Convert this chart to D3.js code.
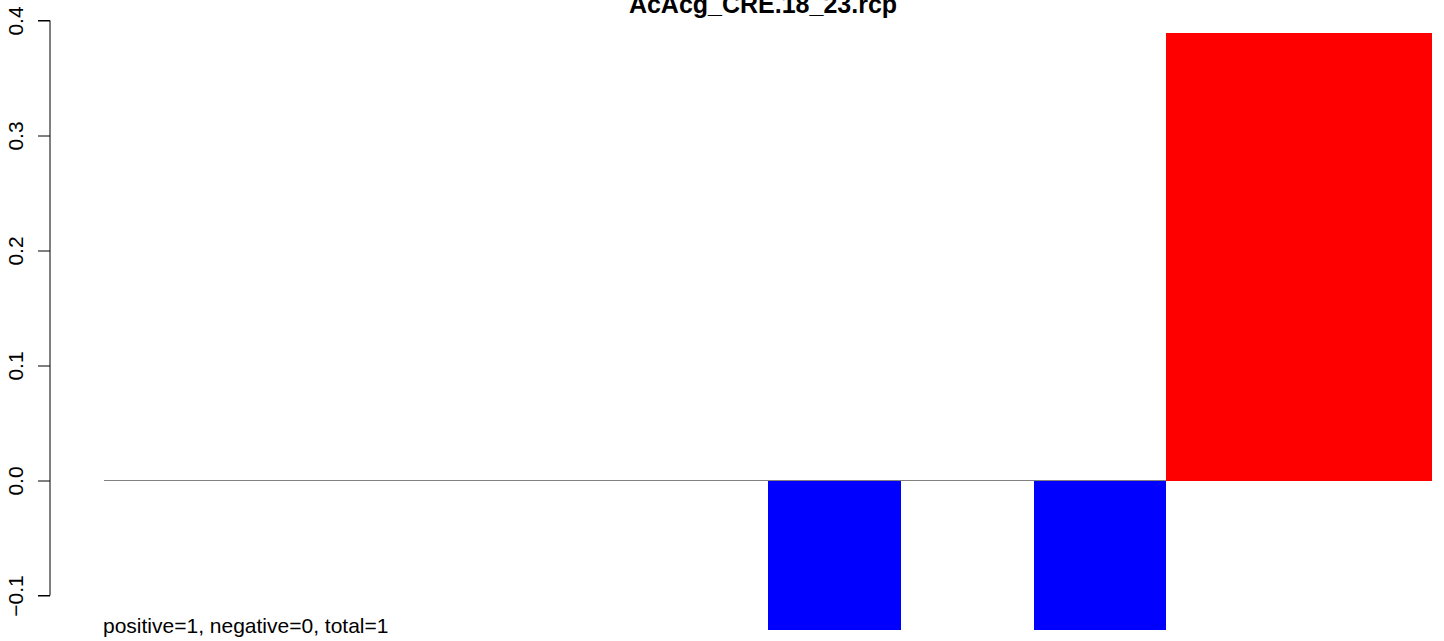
<!DOCTYPE html>
<html>
<head>
<meta charset="utf-8">
<script src="https://cdn.jsdelivr.net/npm/d3@7/dist/d3.min.js"></script>
<style>
  html, body { margin: 0; padding: 0; background: #fff; }
  svg { display: block; font-family: "Liberation Sans", Arial, sans-serif; }
</style>
</head>
<body>
<svg id="chart" width="1444" height="641"></svg>
<script>
const titleText = "AcAcg_CRE.18_23.rcp";
const noteText = "positive=1, negative=0, total=1";
const categories = ["1", "2", "3", "4", "5", "6", "7", "8", "9", "10"];
const values = [0, 0, 0, 0, 0, -0.13, 0, -0.13, 0.389, 0.389];
const yTicks = [-0.1, 0.0, 0.1, 0.2, 0.3, 0.4];

const svg = d3.select("#chart");

const x = d3.scaleBand().domain(categories).range([104, 1432]).padding(0);
const y = d3.scaleLinear().domain([-0.1, 0.4]).range([595.5, 20.5]);

// zero reference line
svg.append("line")
  .attr("x1", x.range()[0]).attr("x2", x.range()[1])
  .attr("y1", y(0)).attr("y2", y(0))
  .attr("stroke", "#808080").attr("stroke-width", 1);

// bars
svg.append("g").attr("shape-rendering", "crispEdges").selectAll("rect")
  .data(categories.map((c, i) => ({ c, v: values[i] })).filter(d => d.v !== 0))
  .join("rect")
  .attr("x", d => Math.round(x(d.c)))
  .attr("width", d => Math.round(x(d.c) + x.bandwidth()) - Math.round(x(d.c)))
  .attr("y", d => y(Math.max(0, d.v)))
  .attr("height", d => Math.abs(y(d.v) - y(0)))
  .attr("fill", d => d.v > 0 ? "#FF0000" : "#0000FF");

// y axis
const yAxis = d3.axisLeft(y).tickValues(yTicks).tickSize(12).tickPadding(0);
const gy = svg.append("g").attr("transform", "translate(50,0)").call(yAxis);
gy.select(".domain").attr("d", `M-12,${y(0.4)}H0V${y(-0.1)}H-12`).attr("stroke", "#000").attr("stroke-width", 1);
gy.selectAll(".tick line").attr("stroke", "#000");
gy.selectAll(".tick text")
  .attr("x", 0).attr("y", 0)
  .attr("transform", "translate(-27,0) rotate(-90)")
  .attr("text-anchor", "middle")
  .attr("dy", 0)
  .style("font-size", "21px")
  .style("font-family", "'Liberation Sans', Arial, sans-serif")
  .attr("fill", "#000")
  .text(d => d < 0 ? "\u2212" + d3.format(".1f")(-d) : d3.format(".1f")(d));

// title
svg.append("text")
  .attr("x", 763).attr("y", 13)
  .attr("text-anchor", "middle")
  .style("font-size", "25px").style("font-weight", "bold")
  .text(titleText);

// note
svg.append("text")
  .attr("x", 103).attr("y", 633)
  .style("font-size", "21px")
  .text(noteText);
</script>
</body>
</html>
